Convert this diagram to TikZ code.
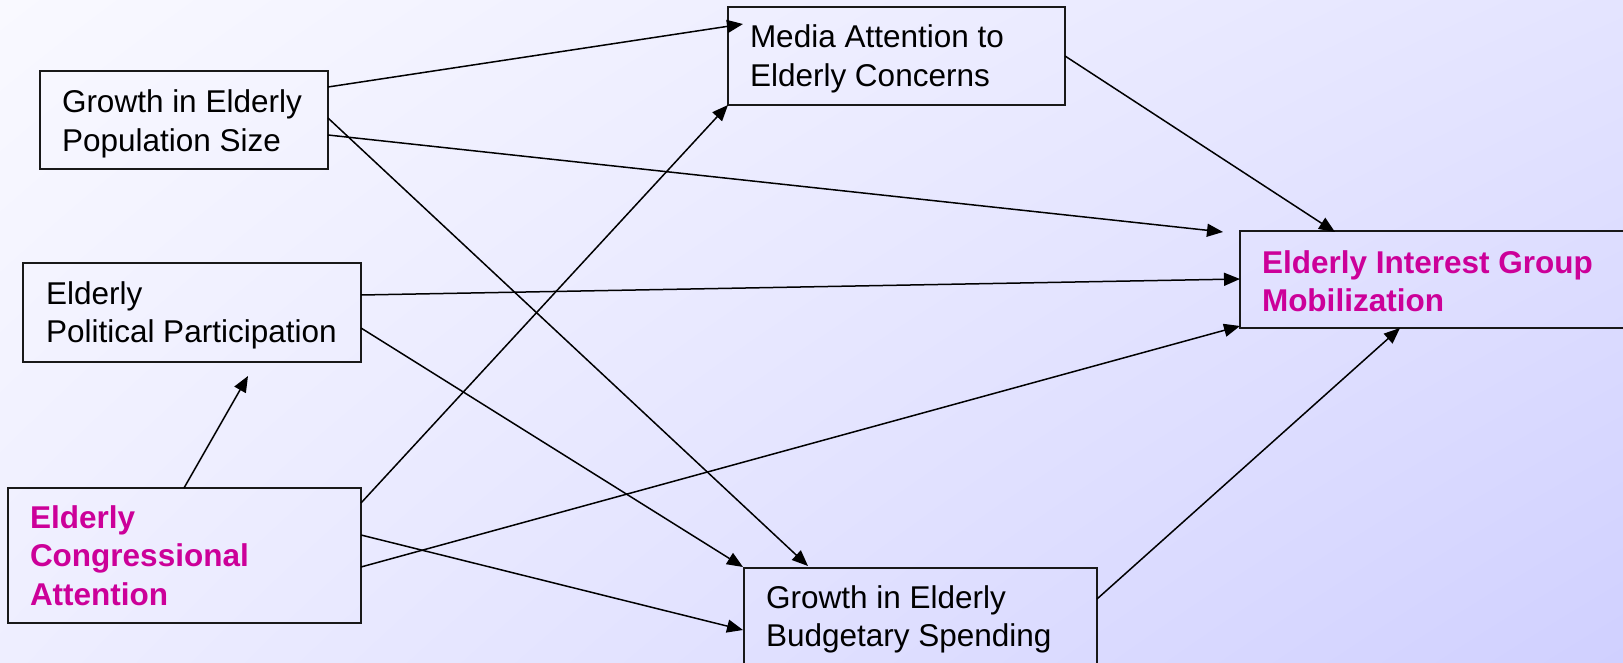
\documentclass[tikz,border=0pt]{standalone}
\usepackage{fontspec}
\setmainfont{Liberation Sans}
\usetikzlibrary{arrows.meta,shadings}
\definecolor{bgTL}{RGB}{249,249,255}
\definecolor{bgTR}{RGB}{228,228,255}
\definecolor{bgBL}{RGB}{238,238,255}
\definecolor{bgBR}{RGB}{208,208,255}
\definecolor{magen}{RGB}{204,0,153}
\newcommand{\mylines}[1]{\begin{tabular}[t]{@{}l@{}}#1\end{tabular}}
\tikzset{
  box/.style={draw=black!90, line width=1.5pt, rectangle, inner sep=0pt, outer sep=0pt, anchor=north west},
  txt/.style={inner sep=0pt, outer sep=0pt, anchor=base west, font=\fontsize{31.5}{38.5}\selectfont},
  hot/.style={txt, text=magen, font=\fontsize{31.5}{38.5}\selectfont\bfseries},
  conn/.style={line width=1.5pt, -{Triangle[length=16pt,width=13pt]}}
}
\begin{document}
\begin{tikzpicture}[x=1pt,y=-1pt]
\useasboundingbox (0,0) rectangle (1623,663);
\clip (0,0) rectangle (1623,663);
\shade[upper left=bgTL, upper right=bgTR, lower left=bgBL, lower right=bgBR] (0,0) rectangle (1623,663);

% boxes
\node[box, minimum width=288pt, minimum height=98pt] (pop) at (40,71) {};
\node[box, minimum width=337pt, minimum height=98pt] (media) at (728,7) {};
\node[box, minimum width=390pt, minimum height=97pt] (mob) at (1240,231) {};
\node[box, minimum width=338pt, minimum height=99pt] (pol) at (23,263) {};
\node[box, minimum width=353pt, minimum height=135pt] (cong) at (8,488) {};
\node[box, minimum width=353pt, minimum height=100pt] (bud) at (744,568) {};

% texts
\node[txt] (popT) at (62,113) {\mylines{Growth in Elderly\\Population Size}};
\node[txt] (mediaT) at (750,48) {\mylines{Media Attention to\\Elderly Concerns}};
\node[hot] (mobT) at (1262,273) {\mylines{Elderly Interest Group\\Mobilization}};
\node[txt] (polT) at (46,304) {\mylines{Elderly\\Political Participation}};
\node[hot] (congT) at (30,528) {\mylines{Elderly\\Congressional\\Attention}};
\node[txt] (budT) at (766,608) {\mylines{Growth in Elderly\\Budgetary Spending}};

% connectors
\draw[conn] ([shift={(0,16)}]pop.north east) -- ([shift={(15,17)}]media.north west);
\draw[conn] ([shift={(0,64)}]pop.north east) -- ([shift={(-17,1)}]mob.north west);
\draw[conn] ([shift={(0,47)}]pop.north east) -- ([shift={(64,-2)}]bud.north west);
\draw[conn] ([shift={(0,49)}]media.north east) -- ([shift={(95,1)}]mob.north west);
\draw[conn] ([shift={(0,32)}]pol.north east) -- ([shift={(0,48)}]mob.north west);
\draw[conn] ([shift={(0,65)}]pol.north east) -- ([shift={(-1,-1)}]bud.north west);
\draw[conn] ([shift={(176,0)}]cong.north west) -- ([shift={(225,14)}]pol.south west);
\draw[conn] ([shift={(0,15)}]cong.north east) -- (media.south west);
\draw[conn] ([shift={(0,47)}]cong.north east) -- ([shift={(-1,62)}]bud.north west);
\draw[conn] ([shift={(0,79)}]cong.north east) -- ([shift={(0,-2)}]mob.south west);
\draw[conn] ([shift={(0,31)}]bud.north east) -- ([shift={(160,0)}]mob.south west);
\end{tikzpicture}
\end{document}
